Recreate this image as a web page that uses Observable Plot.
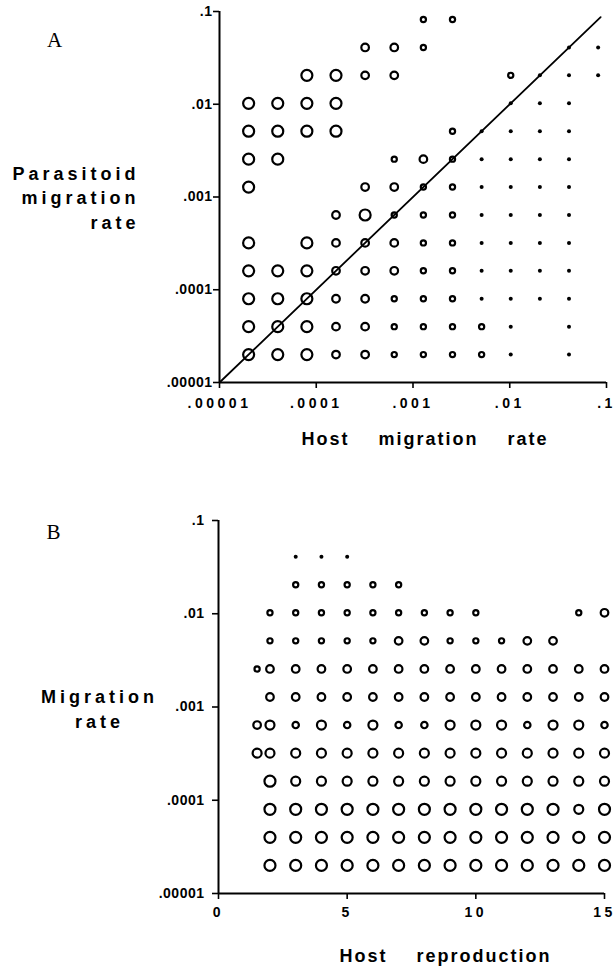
<!DOCTYPE html>
<html><head><meta charset="utf-8">
<script src="https://cdn.jsdelivr.net/npm/d3@7"></script>
<script src="https://cdn.jsdelivr.net/npm/@observablehq/plot@0.6"></script>
<style>
body{margin:0;background:#fff;}
#chart{width:615px;height:971px;}
#chart svg{display:block;}
</style></head><body><div id="chart"></div>
<script>
// ---- data ----
// migration-rate grid (doubling steps)
const hostRates = [0.00002,0.00004,0.00008,0.00016,0.00032,0.00064,0.00128,0.00256,0.00512,0.01024,0.02048,0.04096,0.08192];
const parasitoidRates = [0.00002,0.00004,0.00008,0.00016,0.00032,0.00064,0.00128,0.00256,0.00512,0.01024,0.02048,0.04096,0.08192];
// Panel A: symbol size class (0 none, 1 dot, 2 small, 3 medium, 4 large) for each host rate, per parasitoid rate row
const panelA_r13 = [0,0,0,0,0,0,2,2,0,0,0,0,0];
const panelA_r12 = [0,0,0,0,3,3,2,0,0,0,0,1,1];
const panelA_r11 = [0,0,4,4,3,3,0,0,0,2,1,1,1];
const panelA_r10 = [4,4,4,4,0,0,0,0,0,1,1,1,0];
const panelA_r9  = [4,4,4,4,0,0,0,2,1,1,1,1,0];
const panelA_r8  = [4,4,0,0,0,2,3,2,1,1,1,1,0];
const panelA_r7  = [4,0,0,0,3,3,2,2,1,1,1,1,0];
const panelA_r6  = [0,0,0,3,4,2,2,2,1,1,1,1,0];
const panelA_r5  = [4,0,4,3,3,3,2,2,1,1,1,1,0];
const panelA_r4  = [4,4,4,3,3,3,2,2,1,1,1,1,0];
const panelA_r3  = [4,4,4,3,3,2,2,2,1,1,1,1,0];
const panelA_r2  = [4,4,4,3,3,2,2,2,2,1,0,1,0];
const panelA_r1  = [4,4,4,3,3,2,2,2,2,1,0,1,0];
const panelA_rows = [panelA_r1,panelA_r2,panelA_r3,panelA_r4,panelA_r5,panelA_r6,panelA_r7,panelA_r8,panelA_r9,panelA_r10,panelA_r11,panelA_r12,panelA_r13];
const diagonalLine = [0.00001, 0.087];

// Panel B: host reproduction values and migration-rate rows
const reproValues = [1.5,2,3,4,5,6,7,8,9,10,11,12,13,14,15];
const migrationRates = [0.00002,0.00004,0.00008,0.00016,0.00032,0.00064,0.00128,0.00256,0.00512,0.01024,0.02048,0.04096];
const panelB_r12 = [0,0,1,1,1,0,0,0,0,0,0,0,0,0,0];
const panelB_r11 = [0,0,2,2,2,2,2,0,0,0,0,0,0,0,0];
const panelB_r10 = [0,2,2,2,2,2,2,2,2,2,0,0,0,2,3];
const panelB_r9  = [0,2,2,2,2,2,3,3,2,2,2,3,3,0,0];
const panelB_r8  = [2,3,3,3,3,3,3,3,3,3,3,3,3,3,3];
const panelB_r7  = [0,3,3,3,3,3,3,3,3,3,3,3,3,3,3];
const panelB_r6  = [3,3.5,2.5,3.5,2.5,3.5,2.5,2.5,3.5,3.5,3.5,2.5,3.5,3.5,2.5];
const panelB_r5  = [3.5,3.5,3.5,3.5,3.5,3.5,3.5,3.5,3.5,3.5,3.5,3.5,3.5,3.5,3.5];
const panelB_r4  = [0,4,3.5,3.5,3.5,3.5,3.5,3.5,3.5,3.5,3.5,3.5,3.5,3.5,3.5];
const panelB_r3  = [0,4,4,4,4,4,4,4,4,4,4,4,4,3.5,4];
const panelB_r2  = [0,4,4,4,4,4,4,4,4,4,4,4,4,4,4];
const panelB_r1  = [0,4,4,4,4,4,4,4,4,4,4,4,4,4,4];
const panelB_rows = [panelB_r1,panelB_r2,panelB_r3,panelB_r4,panelB_r5,panelB_r6,panelB_r7,panelB_r8,panelB_r9,panelB_r10,panelB_r11,panelB_r12];

// ticks
const decadeTicks = [0.00001, 0.0001, 0.001, 0.01, 0.1];
const decadeLabels = [".00001", ".0001", ".001", ".01", ".1"];
const reproTicks = [0, 5, 10, 15];
const reproLabels = ["0", "5", "10", "15"];

// ---- build tables ----
const tableA = [];
panelA_rows.forEach((row, j) => row.forEach((s, i) => { if (s > 0) tableA.push({x: hostRates[i], y: parasitoidRates[j], s}); }));
const tableB = [];
panelB_rows.forEach((row, j) => row.forEach((s, i) => { if (s > 0) tableB.push({x: reproValues[i], y: migrationRates[j], s}); }));

const decadeFmt = d => decadeLabels[decadeTicks.indexOf(d)];
const reproFmt = d => reproLabels[reproTicks.indexOf(d)];

const sans = '"Liberation Sans", Arial, Helvetica, sans-serif';
const serif = '"Liberation Serif", "Times New Roman", Times, serif';
const rScale = {type: "linear", domain: [1, 2, 3, 3.5, 4], range: [2.0, 2.6, 3.8, 4.5, 5.5]};
const baseStyle = {fontFamily: sans, fontWeight: "bold", fontSize: "14px", color: "black", background: "white", overflow: "visible"};
const ringWidth = 2.2;

const plotA = Plot.plot({
  width: 615, height: 470,
  marginLeft: 219, marginRight: 9, marginTop: 11, marginBottom: 88,
  style: baseStyle,
  x: {type: "log", domain: [0.00001, 0.1]},
  y: {type: "log", domain: [0.00001, 0.1]},
  r: rScale,
  marks: [
    Plot.ruleX([0.00001], {strokeWidth: 2}),
    Plot.ruleY([0.00001], {strokeWidth: 2}),
    Plot.axisX({ticks: decadeTicks, tickFormat: decadeFmt, tickSize: 6, tickPadding: 10, strokeWidth: 1.6, fontSize: 14, label: null}),
    Plot.axisY({ticks: decadeTicks, tickFormat: decadeFmt, tickSize: 6, tickPadding: 1, strokeWidth: 1.6, fontSize: 14, label: null}),
    Plot.dot(tableA.filter(d => d.s > 1), {x: "x", y: "y", r: "s", fill: "none", stroke: "black", strokeWidth: ringWidth}),
    Plot.dot(tableA.filter(d => d.s === 1), {x: "x", y: "y", r: "s", fill: "black", stroke: "none"}),
    Plot.line(diagonalLine, {x: d => d, y: d => d, strokeWidth: 1.8}),
    Plot.text(["A"], {text: d => d, frameAnchor: "top-left", dx: -165, dy: 35, lineAnchor: "bottom", textAnchor: "middle", fontFamily: serif, fontWeight: "normal", fontSize: 21}),
    Plot.text(["Parasitoid\nmigration\nrate"], {text: d => d, frameAnchor: "left", dx: -80, dy: -0.5, textAnchor: "end", lineAnchor: "middle", lineHeight: 1.35, fontSize: 18}),
    Plot.text(["Host migration rate"], {text: d => d, frameAnchor: "bottom", dx: 12, dy: 57, textAnchor: "middle", lineAnchor: "middle", fontSize: 18})
  ]
});

const plotB = Plot.plot({
  width: 615, height: 501,
  marginLeft: 218, marginRight: 11, marginTop: 50, marginBottom: 78,
  style: baseStyle,
  x: {type: "linear", domain: [0, 15]},
  y: {type: "log", domain: [0.00001, 0.1]},
  r: rScale,
  marks: [
    Plot.ruleX([0], {strokeWidth: 2}),
    Plot.ruleY([0.00001], {strokeWidth: 2}),
    Plot.axisX({ticks: reproTicks, tickFormat: reproFmt, tickSize: 6, tickPadding: 8, strokeWidth: 1.6, fontSize: 14, label: null}),
    Plot.axisY({ticks: decadeTicks, tickFormat: decadeFmt, tickSize: 6, tickPadding: 8, strokeWidth: 1.6, fontSize: 14, label: null}),
    Plot.dot(tableB.filter(d => d.s > 1), {x: "x", y: "y", r: "s", fill: "none", stroke: "black", strokeWidth: ringWidth}),
    Plot.dot(tableB.filter(d => d.s === 1), {x: "x", y: "y", r: "s", fill: "black", stroke: "none"}),
    Plot.text(["B"], {text: d => d, frameAnchor: "top-left", dx: -165, dy: 18, lineAnchor: "bottom", textAnchor: "middle", fontFamily: serif, fontWeight: "normal", fontSize: 21}),
    Plot.text(["Migration\nrate"], {text: d => d, frameAnchor: "left", dx: -119, dy: 0.5, textAnchor: "middle", lineAnchor: "middle", lineHeight: 1.4, fontSize: 18}),
    Plot.text(["Host reproduction"], {text: d => d, frameAnchor: "bottom", dx: 34, dy: 63, textAnchor: "middle", lineAnchor: "middle", fontSize: 18})
  ]
});

const root = document.getElementById("chart");
root.appendChild(plotA);
root.appendChild(plotB);

// typographic spacing like the original figure
d3.selectAll('#chart g[aria-label="x-axis tick label"] text').attr("letter-spacing", "3.5px");
d3.selectAll('#chart g[aria-label="y-axis tick label"] text').attr("letter-spacing", "0.5px");
const allText = d3.selectAll("#chart text");
allText.filter(function() { const t = this.textContent; return t.startsWith("Parasitoid") || t.startsWith("Migration"); })
  .attr("letter-spacing", "4px").style("letter-spacing", "4px");
allText.filter(function() { return this.textContent.startsWith("Host"); })
  .attr("letter-spacing", "2px").style("letter-spacing", "2px").style("word-spacing", "22px").attr("word-spacing", "22px");
</script>
</body></html>
